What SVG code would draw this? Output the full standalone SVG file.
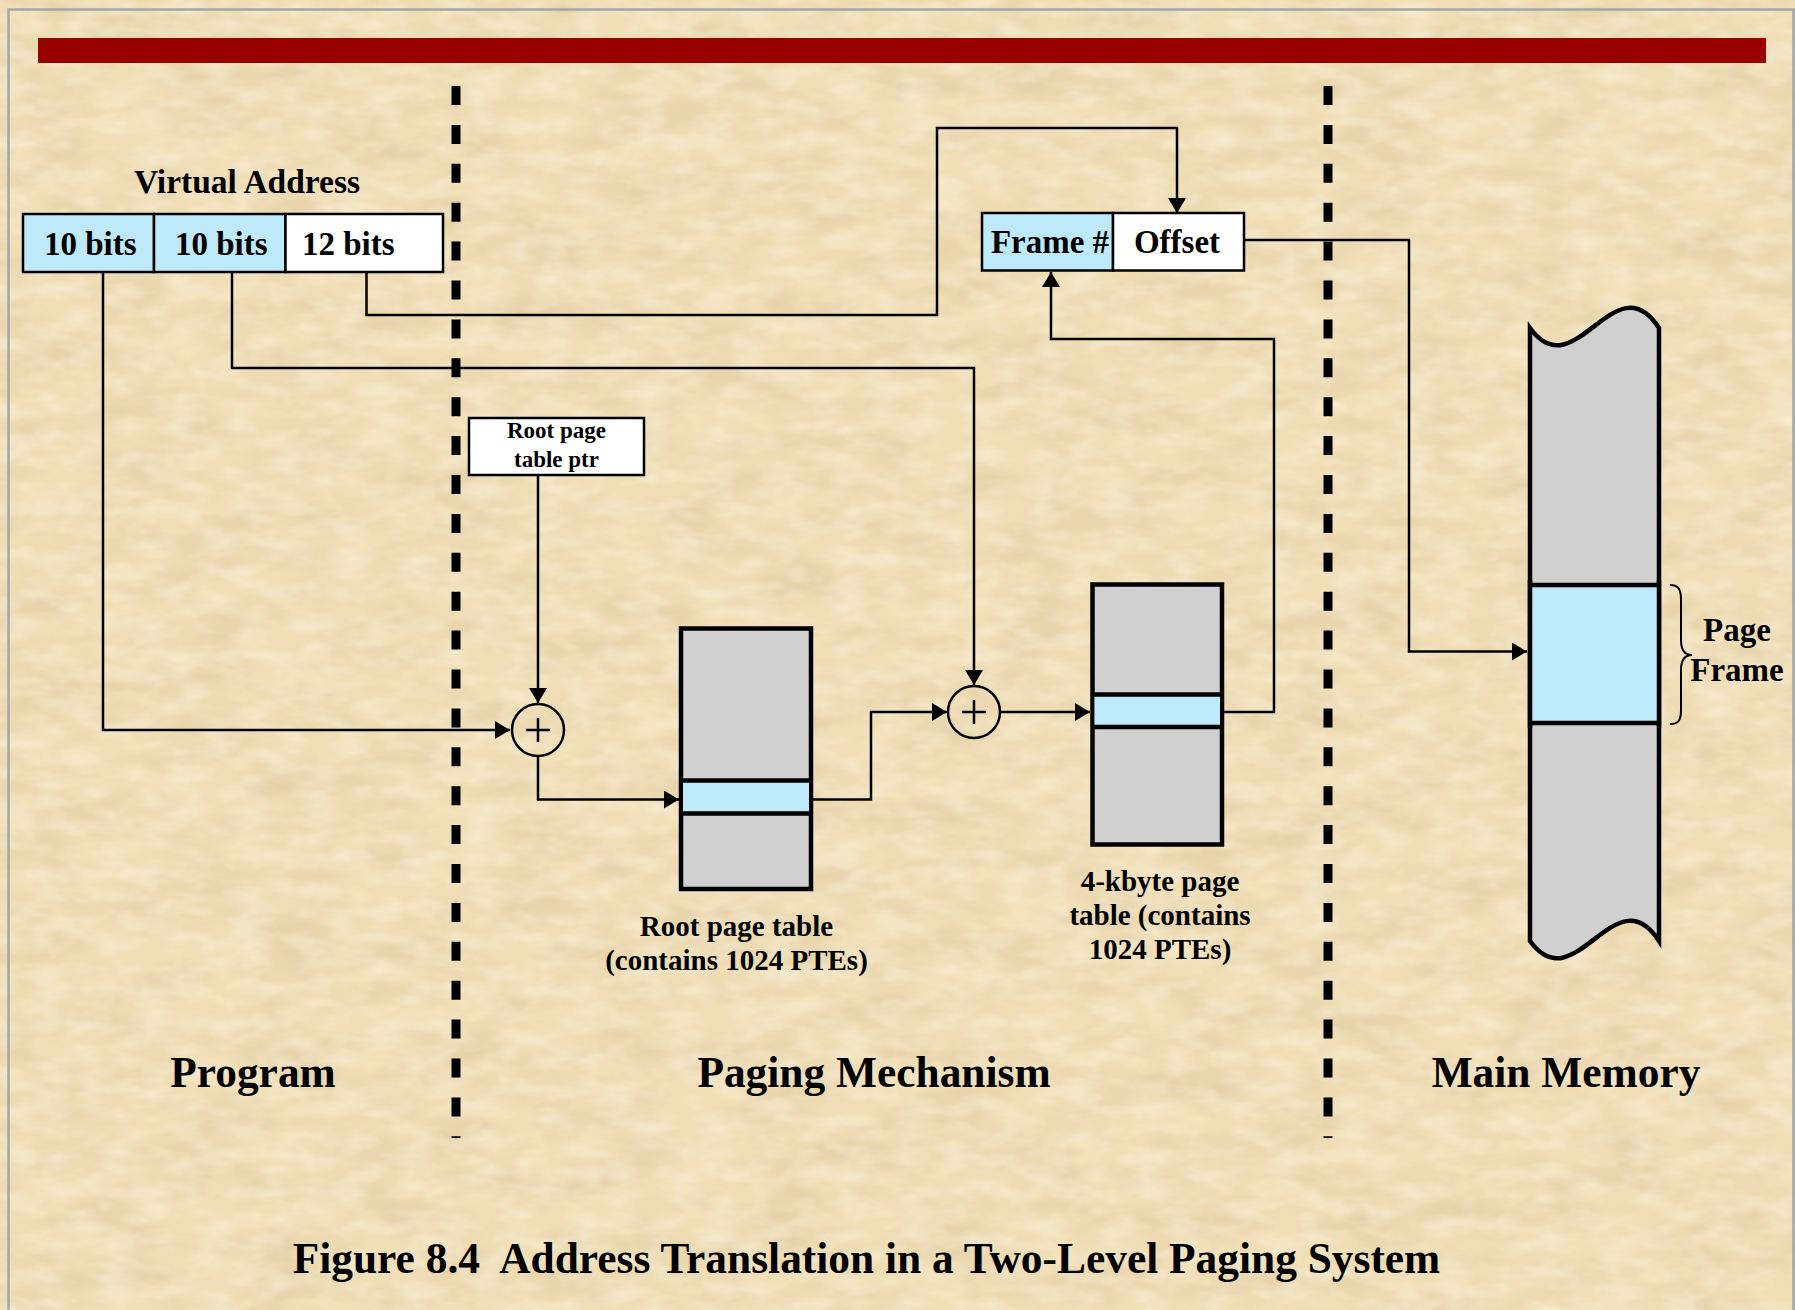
<svg xmlns="http://www.w3.org/2000/svg" width="1795" height="1310" viewBox="0 0 1795 1310">
  <style>
    text { font-family: "Liberation Serif", "Times New Roman", serif; font-weight: bold; fill: #000; }
    .lbl33 { font-size: 33px; }
    .lbl29 { font-size: 29px; }
    .lbl23 { font-size: 23px; }
    .big { font-size: 43.4px; }
    .mid { text-anchor: middle; }
    .cell { stroke: #000; stroke-width: 2.5; }
    .blue { fill: #BEE9FA; }
    .white { fill: #FFFFFF; }
    .gray { fill: #D0D0D0; }
    .table { stroke: #000; stroke-width: 4.5; }
    .sep { stroke: #000; stroke-width: 4.5; fill: none; }
    .conn { fill: none; stroke: #000; stroke-width: 2.5; }
    .adder { fill: none; stroke: #000; stroke-width: 2.5; }
    .divider { stroke: #000; stroke-width: 9; stroke-dasharray: 19 19.9; }
  </style>
  <defs>
    <marker id="arrow" markerUnits="userSpaceOnUse" markerWidth="16" markerHeight="18" refX="15" refY="9" orient="auto">
      <path d="M0,0 L15,9 L0,18 Z" fill="#000"/>
    </marker>
    <!-- parchment grain: soft brown mottling plus light flecks -->
    <filter id="paper" x="0" y="0" width="100%" height="100%" filterUnits="userSpaceOnUse">
      <feTurbulence type="fractalNoise" baseFrequency="0.012 0.03" numOctaves="4" seed="7" result="noise"/>
      <feColorMatrix in="noise" type="matrix" values="0 0 0 0 0.66  0 0 0 0 0.52  0 0 0 0 0.3  0 0 0 0.7 -0.24"/>
    </filter>
    <filter id="paperLight" x="0" y="0" width="100%" height="100%" filterUnits="userSpaceOnUse">
      <feTurbulence type="fractalNoise" baseFrequency="0.03 0.06" numOctaves="3" seed="21" result="noise"/>
      <feColorMatrix in="noise" type="matrix" values="0 0 0 0 1  0 0 0 0 0.97  0 0 0 0 0.88  0 0 0 0.8 -0.3"/>
    </filter>
  </defs>

  <!-- parchment background -->
  <rect x="0" y="0" width="1795" height="1310" fill="#F0DEB6"/>
  <rect x="0" y="0" width="1795" height="1310" filter="url(#paper)"/>
  <rect x="0" y="0" width="1795" height="1310" filter="url(#paperLight)"/>
  <rect x="8.5" y="9.5" width="1785" height="1320" fill="none" stroke="#A3A6AA" stroke-width="2.5"/>

  <!-- title bar -->
  <rect x="38" y="38" width="1728" height="25" fill="#990000"/>

  <!-- region dividers -->
  <g id="dividers">
    <line class="divider" x1="456" y1="86" x2="456" y2="1138"/>
    <line class="divider" x1="1328" y1="86" x2="1328" y2="1138"/>
  </g>

  <!-- connectors -->
  <g id="connectors">
    <path class="conn" d="M103,272 V730 H510" marker-end="url(#arrow)"/>
    <path class="conn" d="M538,475 V703" marker-end="url(#arrow)"/>
    <path class="conn" d="M538,756 V799.5 H679" marker-end="url(#arrow)"/>
    <path class="conn" d="M813,799.5 H871 V712 H947" marker-end="url(#arrow)"/>
    <path class="conn" d="M232,272 V368 H974 V685" marker-end="url(#arrow)"/>
    <path class="conn" d="M1000,712 H1090" marker-end="url(#arrow)"/>
    <path class="conn" d="M1224,712 H1274 V339 H1051 V272" marker-end="url(#arrow)"/>
    <path class="conn" d="M366.5,272 V315 H937 V128 H1177 V213" marker-end="url(#arrow)"/>
    <path class="conn" d="M1244,240 H1409 V651.5 H1527" marker-end="url(#arrow)"/>
  </g>

  <!-- virtual address -->
  <g id="virtual-address">
    <text class="lbl33 mid" x="247" y="193" style="font-size:33.5px">Virtual Address</text>
    <rect class="cell blue" x="23" y="214" width="131" height="58"/>
    <rect class="cell blue" x="154" y="214" width="131.5" height="58"/>
    <rect class="cell white" x="285.5" y="214" width="157.5" height="58"/>
    <text class="lbl33" x="44" y="255">10 bits</text>
    <text class="lbl33" x="175" y="255">10 bits</text>
    <text class="lbl33" x="302" y="255">12 bits</text>
  </g>

  <!-- root page table pointer -->
  <g id="root-ptr">
    <rect class="cell white" x="469" y="418" width="175" height="57"/>
    <text class="lbl23 mid" x="556.5" y="438">Root page</text>
    <text class="lbl23 mid" x="556.5" y="467">table ptr</text>
  </g>

  <!-- first adder -->
  <g id="adder-1">
    <circle class="adder" cx="538" cy="730" r="26"/>
    <path class="adder" d="M526,730 H550 M538,718 V742"/>
  </g>

  <!-- root page table -->
  <g id="root-table">
    <rect class="table gray" x="681" y="628.5" width="130" height="260.5"/>
    <rect class="blue" x="683" y="780.5" width="126" height="33"/>
    <path class="sep" d="M681,780.5 H811 M681,813.5 H811"/>
    <text class="lbl29 mid" x="736.5" y="936">Root page table</text>
    <text class="lbl29 mid" x="736.5" y="970">(contains 1024 PTEs)</text>
  </g>

  <!-- second adder -->
  <g id="adder-2">
    <circle class="adder" cx="974" cy="712" r="26"/>
    <path class="adder" d="M962,712 H986 M974,700 V724"/>
  </g>

  <!-- second-level page table -->
  <g id="page-table">
    <rect class="table gray" x="1092.5" y="584.5" width="129.5" height="260"/>
    <rect class="blue" x="1094.5" y="694.5" width="125.5" height="32.5"/>
    <path class="sep" d="M1092.5,694.5 H1222 M1092.5,727 H1222"/>
    <text class="lbl29 mid" x="1160" y="891">4-kbyte page</text>
    <text class="lbl29 mid" x="1160" y="925">table (contains</text>
    <text class="lbl29 mid" x="1160" y="959">1024 PTEs)</text>
  </g>

  <!-- physical address -->
  <g id="frame-offset">
    <rect class="cell blue" x="982" y="213" width="131" height="57.5"/>
    <rect class="cell white" x="1113" y="213" width="131" height="57.5"/>
    <text class="lbl33 mid" x="1050" y="253">Frame #</text>
    <text class="lbl33 mid" x="1177" y="253">Offset</text>
  </g>

  <!-- main memory -->
  <g id="main-memory">
    <path class="table gray" d="M1530,328 C1575,390 1615,260 1659,328 V941 C1615,873 1575,1003 1530,941 Z"/>
    <rect class="blue" x="1532" y="585" width="125" height="138"/>
    <path class="sep" d="M1530,585 H1659 M1530,723 H1659 M1530,580 V728 M1659,580 V728"/>
    <path fill="none" stroke="#000" stroke-width="2" d="M1670,585 C1679,585 1681,590 1681,600 V640 C1681,650 1685,655 1692,655 C1685,655 1681,660 1681,670 V710 C1681,720 1679,724 1670,724"/>
    <text class="lbl33 mid" x="1737" y="641">Page</text>
    <text class="lbl33 mid" x="1737" y="681">Frame</text>
  </g>

  <!-- region captions -->
  <g id="regions">
    <text class="big mid" x="253" y="1087">Program</text>
    <text class="big mid" x="874" y="1087">Paging Mechanism</text>
    <text class="big mid" x="1566" y="1087">Main Memory</text>
  </g>

  <text class="big mid" x="866.5" y="1273" xml:space="preserve">Figure 8.4  Address Translation in a Two-Level Paging System</text>
</svg>
